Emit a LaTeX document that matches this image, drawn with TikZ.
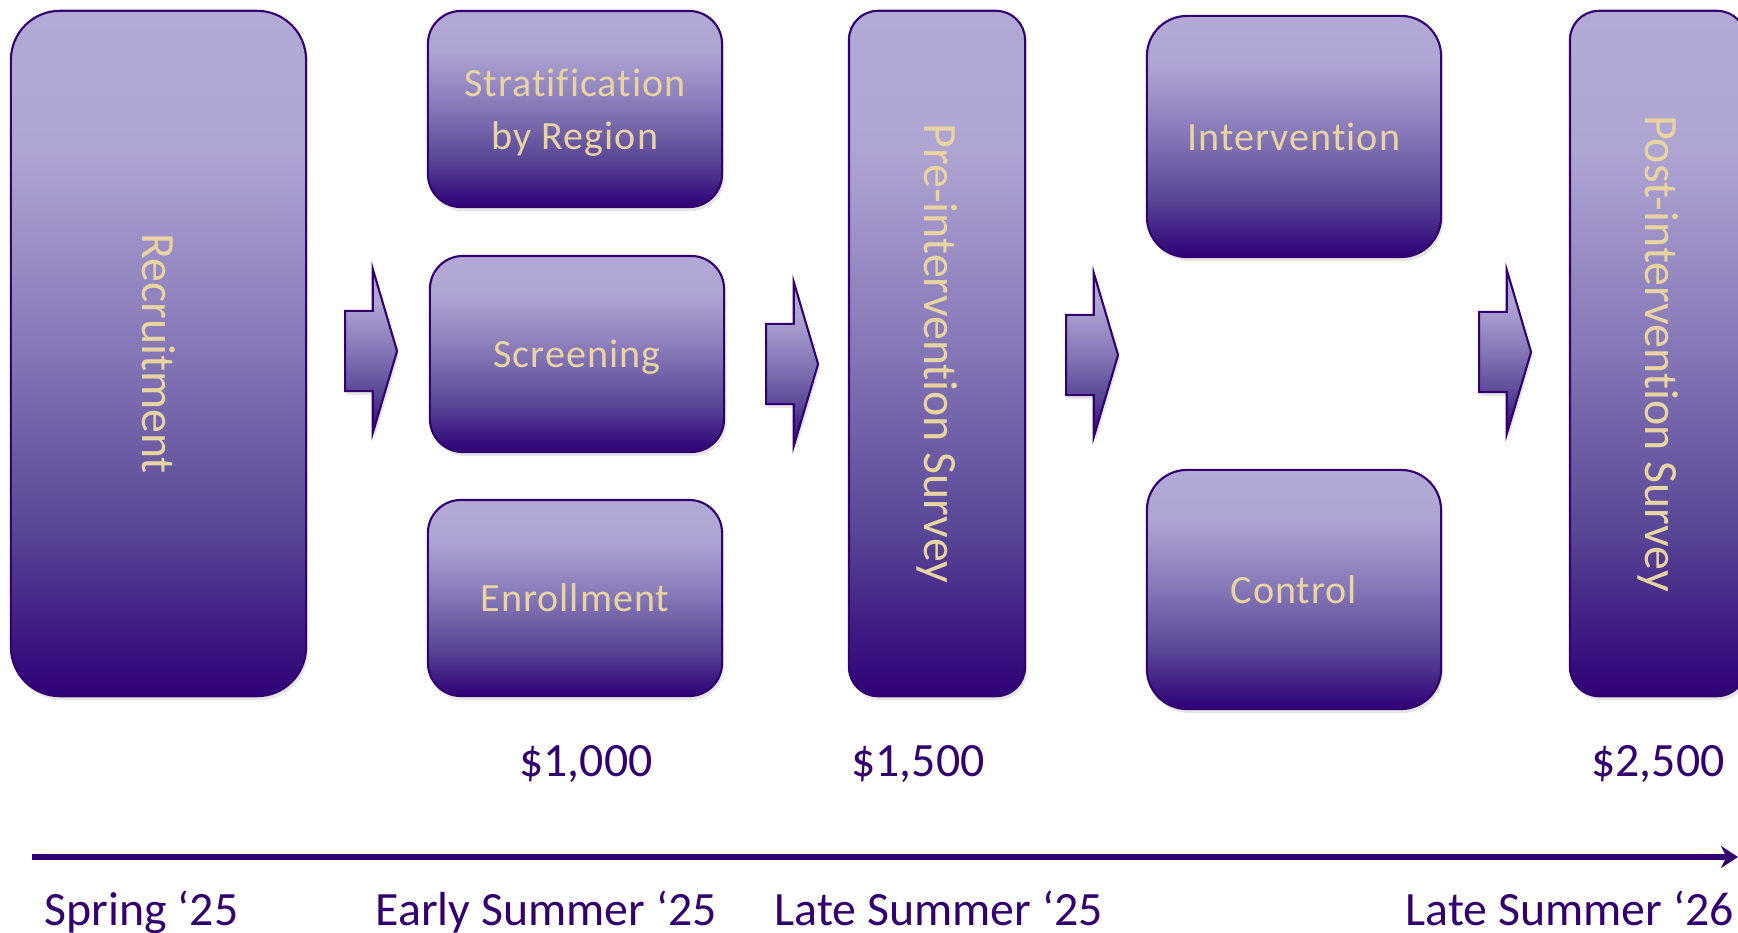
\documentclass[tikz,border=0pt]{standalone}
\usepackage{fontspec}
\setmainfont[Ligatures=NoCommon]{Carlito}
\newfontfamily\spacedfam[Ligatures=NoCommon, LetterSpace=2.5]{Carlito}
\usepackage{graphicx}
\usetikzlibrary{shapes,arrows.meta,positioning,shadows}

\definecolor{uwpurple}{RGB}{51,0,111}
\definecolor{uwgold}{RGB}{232,211,162}
\definecolor{stagetop}{RGB}{179,169,214}
\definecolor{stagetopb}{RGB}{175,165,211}
\definecolor{stagemid}{RGB}{132,118,182}
\definecolor{stagelow}{RGB}{88,70,150}
\definecolor{stagebot}{RGB}{46,0,118}

\pgfdeclareverticalshading{stageshade}{100bp}{color(0bp)=(stagebot); color(25bp)=(stagebot);
  color(37bp)=(stagelow); color(50bp)=(stagemid); color(65bp)=(stagetopb);
  color(75bp)=(stagetop); color(100bp)=(stagetop)}

\newcommand\stagefont{\spacedfam\fontsize{11.4}{15.2}\selectfont}
\newcommand\turnfont{\fontsize{13.6}{16}\selectfont}
\newcommand\datefont{\fontsize{13.6}{16}\selectfont}

\begin{document}
\begin{tikzpicture}[x=0.01cm, y=-0.01cm,
    every node/.style={font=\stagefont},
    stagebase/.style={draw=uwpurple, line width=0.6pt, rounded corners=#1,
      shade, shading=stageshade, text=uwgold, align=center, inner sep=0pt,
      drop shadow={opacity=0.2, shadow xshift=0.02cm, shadow yshift=-0.04cm}},
    stagebox/.style={stagebase=#1, text depth=0pt},
    stagebox/.default=0.33cm,
    surveybox/.style={stagebase=#1, font=\turnfont, minimum height=6.85cm},
    flowarrow/.style={single arrow, anchor=tail, draw=uwpurple, line width=0.6pt,
      shade, shading=stageshade, minimum height=0.52cm,
      single arrow head extend=0.42cm, single arrow tip angle=147,
      inner xsep=0pt, inner ysep=0.39cm,
      drop shadow={opacity=0.2, shadow xshift=0.02cm, shadow yshift=-0.04cm}},
    datelabel/.style={anchor=base west, text=uwpurple, inner sep=0pt, font=\datefont},
    costlabel/.style={anchor=base, text=uwpurple, inner sep=0pt, font=\datefont}]
  \useasboundingbox (0,0) rectangle (1738,933);
  \clip (0,0) rectangle (1738,933);

  % stages
  \node[surveybox=0.49cm, minimum width=2.95cm] (rec) at (158.5,353.5)
    {\rotatebox{-90}{Recruitment}};
  \node[stagebox, minimum width=2.94cm, minimum height=1.96cm] (strat) at (575,109)
    {Stratification\\by Region};
  \node[stagebox, minimum width=2.94cm, minimum height=1.96cm] (scr) at (577,354) {Screening};
  \node[stagebox, minimum width=2.94cm, minimum height=1.96cm] (enr) at (575,598) {Enrollment};
  \node[surveybox=0.29cm, minimum width=1.76cm] (pre) at (937,353.5)
    {\rotatebox{-90}{Pre-intervention Survey}};
  \node[stagebox=0.4cm, minimum width=2.94cm, minimum height=2.41cm] (int) at (1294,136.5)
    {Intervention};
  \node[stagebox=0.4cm, minimum width=2.94cm, minimum height=2.39cm] (ctl) at (1294,589.5)
    {Control};
  \node[surveybox=0.29cm, minimum width=1.76cm] (post) at (1658,353.5)
    {\rotatebox{-90}{Post-intervention Survey}};

  % block arrows between stages
  \node[flowarrow] (a1) at (344,351) {};
  \node[flowarrow] (a2) at (765,364) {};
  \node[flowarrow] (a3) at (1065,355) {};
  \node[flowarrow] (a4) at (1478,352) {};

  % costs
  \node[costlabel] (c1) at (586,776) {\$1,000};
  \node[costlabel] (c2) at (918,776) {\$1,500};
  \node[costlabel] (c3) at (1658,776) {\$2,500};

  % timeline
  \coordinate (t0) at (32,857);
  \coordinate (t1) at (1738,857);
  \draw[uwpurple, line width=1.6pt, -{Stealth[length=0.17cm, width=0.22cm]}] (t0) -- (t1);
  \node[datelabel] (d1) at (44,925) {Spring ‘25};
  \node[datelabel] (d2) at (375,925) {Early Summer ‘25};
  \node[datelabel] (d3) at (774,925) {Late Summer ‘25};
  \node[datelabel] (d4) at (1405,925) {Late Summer ‘26};
\end{tikzpicture}
\end{document}
